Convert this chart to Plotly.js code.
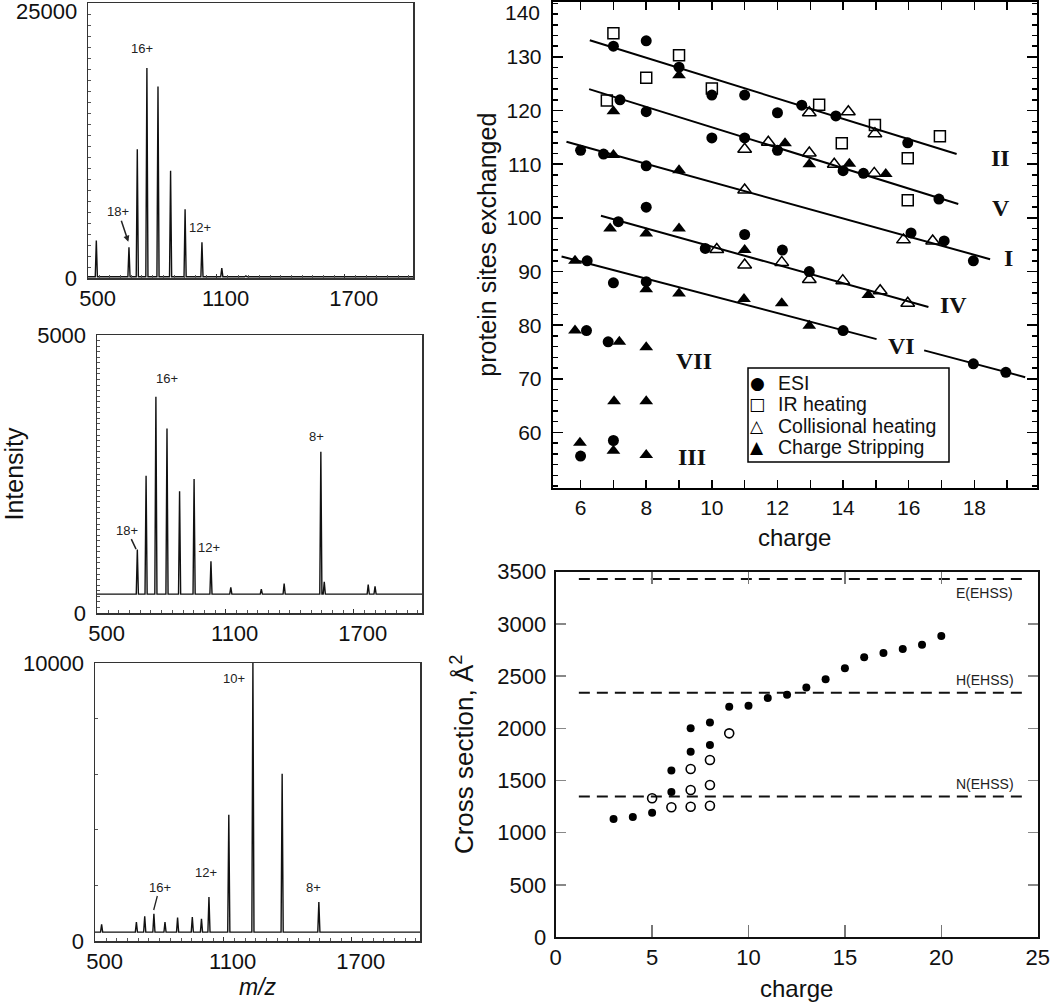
<!DOCTYPE html>
<html><head><meta charset="utf-8">
<script src="https://cdn.plot.ly/plotly-3.0.1.min.js"></script>
<style>html,body{margin:0;padding:0;background:#fff}#chart{width:1050px;height:1003px}</style>
</head><body><div id="chart"></div>
<script>
// ---------- Mass spectra (peak lists: m/z and intensity) ----------
const spec1MZ  = [536, 689, 728, 773, 825, 884, 952, 1031, 1124, 1237];
const spec1Int = [3400, 2800, 11700, 19100, 17400, 9750, 6250, 3250, 900, 200];
const spec1Base = 120;

const spec2MZ  = [686, 727, 773, 825, 884, 952, 1031, 1124, 1267, 1374, 1546, 1562, 1768, 1800];
const spec2Int = [1140, 2470, 3890, 3320, 2190, 2410, 930, 460, 430, 530, 2900, 560, 510, 480];
const spec2Base = 340;

const spec3MZ  = [528, 691, 730, 773, 825, 884, 953, 996, 1031, 1124, 1237, 1374, 1546];
const spec3Int = [600, 680, 890, 980, 680, 840, 860, 800, 1580, 4540, 10000, 6020, 1400];
const spec3Base = 320;

const mzTickVals = [500, 1100, 1700];

// peak labels on spectra
const spec1Labels = ["16+", "12+"];
const spec1LabX = [750, 1022];
const spec1LabY = [20900, 4550];
const spec2Labels = ["16+", "12+", "8+"];
const spec2LabX = [824, 1022, 1526];
const spec2LabY = [4209, 1187, 3183];
const spec3Labels = ["10+", "12+", "8+"];
const spec3LabX = [1147, 1016, 1521];
const spec3LabY = [9460, 2482, 1942];

// ---------- H/D exchange vs charge ----------
const esiX = [7, 8, 9, 10, 11, 7.2, 8, 10, 11, 6, 6.7, 8, 8, 7.15, 11, 9.8, 6.2, 12, 12.74, 13.78, 15.97, 16.92, 12, 14, 14.62, 16.07, 17.08, 17.97, 12.15, 12.97, 14, 17.97, 18.96, 7, 8, 6.18, 6.84, 6, 7];
const esiY = [132, 133, 128.1, 122.9, 122.9, 122, 119.8, 114.9, 114.9, 112.6, 111.9, 109.7, 102, 99.3, 96.9, 94.3, 92, 119.6, 121.0, 119.0, 114.0, 103.5, 112.6, 108.8, 108.3, 97.2, 95.7, 92.0, 94.0, 90.0, 79.0, 72.8, 71.2, 87.9, 88.1, 79.0, 76.9, 55.6, 58.5];

const irX = [7, 9, 8, 10, 6.8, 13.27, 13.96, 14.97, 16.95, 15.97, 15.97];
const irY = [134.4, 130.3, 126.1, 124.1, 121.9, 121.1, 113.9, 117.3, 115.2, 111.1, 103.3];

const colX = [11, 11.72, 11, 10.15, 11, 12.97, 14.16, 14.97, 12.97, 13.73, 14.95, 15.84, 16.73, 12.13, 12.97, 13.99, 15.13, 15.97];
const colY = [112.8, 114.1, 105.2, 94.1, 91.2, 119.6, 119.8, 115.7, 112.1, 110.0, 108.3, 95.9, 95.7, 91.7, 88.5, 88.3, 86.4, 84.1];

const csX = [9, 7, 7, 9, 6.9, 8, 9, 11, 5.83, 12.23, 12.97, 14.19, 15.30, 14.77, 10.98, 12.13, 12.97, 8, 9, 5.83, 7.18, 8, 7.02, 8, 5.98, 7, 8];
const csY = [126.6, 119.9, 111.7, 108.9, 98, 97.1, 98, 94, 92, 113.9, 110.0, 110.1, 108.2, 85.6, 84.9, 84.1, 79.9, 86.7, 85.9, 79.0, 76.9, 75.9, 65.8, 65.8, 58.1, 56.6, 55.8];

const legendNames = ["ESI", "IR heating", "Collisional heating", "Charge Stripping"];
const legendGlyphs = ["\u25CF", "\u25A1", "\u25B3", "\u25B2"];

// fitted lines (segment end points)
const fitX0 = [6.28, 6.26, 5.57, 6.62, 5.42, 16.47];
const fitY0 = [133.1, 124.0, 114.2, 100.4, 92.8, 75.3];
const fitX1 = [17.46, 17.51, 18.48, 16.6, 15.02, 19.55];
const fitY1 = [111.9, 102.6, 92.3, 83.4, 77.4, 70.3];

const romanText = ["II", "V", "I", "IV", "VI", "VII", "III"];
const romanX = [18.8, 18.8, 19.04, 17.36, 15.79, 9.45, 9.38];
const romanY = [111.1, 101.8, 92.5, 83.8, 76.1, 73.4, 55.4];

// ---------- Cross sections ----------
const filledX = [3, 4, 5, 6, 6, 7, 7, 8, 8, 9, 10, 11, 12, 13, 14, 15, 16, 17, 18, 19, 20];
const filledY = [1130, 1150, 1190, 1595, 1390, 2000, 1775, 2055, 1840, 2205, 2215, 2290, 2320, 2390, 2470, 2575, 2680, 2720, 2760, 2800, 2885];
const openX = [5, 6, 7, 7, 7, 8, 8, 8, 9];
const openY = [1330, 1243, 1248, 1408, 1609, 1258, 1456, 1696, 1951];
const ehssNames = ["E(EHSS)", "H(EHSS)", "N(EHSS)"];
const ehssLevels = [3430, 2340, 1345];
const ehssLabelY = [3292, 2462, 1463];
const ehssStart = 1.2, ehssEnd = 24.5;

// ---------- helpers ----------
const W = 1050, H = 1003;
const dx = (a, b) => [a / W, b / W];
const dy = (top, bottom) => [1 - bottom / H, 1 - top / H];
const FONT = "Liberation Sans, Arial, sans-serif";

function spectrumTrace(mz, inten, base, xa, ya) {
  const hw = 5;
  const xs = [497], ys = [base];
  mz.forEach((m, i) => { xs.push(m - hw, m, m + hw); ys.push(base, inten[i], base); });
  xs.push(2020); ys.push(base);
  return { x: xs, y: ys, xaxis: xa, yaxis: ya, type: 'scatter', mode: 'lines',
    line: { color: '#111', width: 1.4 }, showlegend: false, hoverinfo: 'skip' };
}

const traces = [
  spectrumTrace(spec1MZ, spec1Int, spec1Base, 'x', 'y'),
  spectrumTrace(spec2MZ, spec2Int, spec2Base, 'x2', 'y2'),
  spectrumTrace(spec3MZ, spec3Int, spec3Base, 'x3', 'y3'),
];

fitX0.forEach((x0, i) => {
  traces.push({ x: [x0, fitX1[i]], y: [fitY0[i], fitY1[i]], xaxis: 'x4', yaxis: 'y4',
    mode: 'lines', line: { color: '#000', width: 2 }, showlegend: false, hoverinfo: 'skip' });
});
traces.push({ x: esiX, y: esiY, xaxis: 'x4', yaxis: 'y4', mode: 'markers', name: legendNames[0],
  marker: { symbol: 'circle', size: 11, color: '#000' } });
traces.push({ x: irX, y: irY, xaxis: 'x4', yaxis: 'y4', mode: 'markers', name: legendNames[1],
  marker: { symbol: 'square-open', size: 11, color: '#000', line: { width: 1.5 } } });
traces.push({ x: colX, y: colY, xaxis: 'x4', yaxis: 'y4', mode: 'markers', name: legendNames[2],
  marker: { symbol: 'triangle-up-open', size: 12, color: '#000', line: { width: 1.5 } } });
traces.push({ x: csX, y: csY, xaxis: 'x4', yaxis: 'y4', mode: 'markers', name: legendNames[3],
  marker: { symbol: 'triangle-up', size: 12, color: '#000' } });

ehssLevels.forEach((lv, i) => {
  traces.push({ x: [ehssStart, ehssEnd], y: [lv, lv], xaxis: 'x5', yaxis: 'y5', mode: 'lines', name: ehssNames[i],
    line: { color: '#111', width: 2, dash: '11px,7px' }, showlegend: false, hoverinfo: 'skip' });
});
traces.push({ x: filledX, y: filledY, xaxis: 'x5', yaxis: 'y5', mode: 'markers', showlegend: false,
  marker: { symbol: 'circle', size: 8, color: '#000' } });
traces.push({ x: openX, y: openY, xaxis: 'x5', yaxis: 'y5', mode: 'markers', showlegend: false,
  marker: { symbol: 'circle-open', size: 9, color: '#000', line: { width: 1.6 } } });

// ---------- axes ----------
function specX(dom, anchor, extra) {
  return Object.assign({ domain: dom, anchor: anchor, range: [497, 2020], tickvals: mzTickVals,
    ticks: 'inside', ticklen: 4, tickcolor: '#333', showline: true, mirror: true, linecolor: '#333', linewidth: 1.5,
    showgrid: false, zeroline: false, tickfont: { size: 22, family: FONT, color: '#111' }, ticklabelshift: 9,
    minor: { dtick: 50, tick0: 500, ticklen: 3, ticks: 'inside', tickcolor: '#555' } }, extra || {});
}
function specY(dom, anchor, max, minorD, extra) {
  return Object.assign({ domain: dom, anchor: anchor, range: [0, max], tickvals: [0], ticktext: ['0'],
    ticks: 'inside', ticklen: 4, tickcolor: '#333', showline: true, mirror: true, linecolor: '#333', linewidth: 1.5,
    showgrid: false, zeroline: false, tickfont: { size: 22, family: FONT, color: '#111' }, ticklabelstandoff: 5,
    minor: { dtick: minorD, ticklen: 3, ticks: 'inside', tickcolor: '#555' } }, extra || {});
}

const layout = {
  width: W, height: H, margin: { l: 0, r: 0, t: 0, b: 0 },
  paper_bgcolor: '#fff', plot_bgcolor: '#fff',
  font: { family: FONT, color: '#111' },
  showlegend: false,
  xaxis: specX(dx(88, 413), 'y'),
  yaxis: specY(dy(3, 278), 'x', 25000, 1000),
  xaxis2: specX(dx(97, 422), 'y2'),
  yaxis2: specY(dy(335, 613), 'x2', 5000, 100, {
    tickvals: [0, 5000], ticktext: ['0', '5000'],
    title: { text: 'Intensity', font: { size: 25, family: FONT, color: '#111' }, standoff: 11 } }),
  xaxis3: specX(dx(95, 420), 'y3', {
    title: { text: '<i>m/z</i>', font: { size: 23, family: FONT, color: '#111' }, standoff: 4 } }),
  yaxis3: specY(dy(663, 941), 'x3', 10000, 2000, { tickvals: [0, 10000], ticktext: ['0', '10000'] }),

  xaxis4: { domain: dx(552.7, 1036.7), anchor: 'y4', range: [5.15, 19.9], tick0: 6, dtick: 2,
    ticks: 'inside', ticklen: 8, tickwidth: 1.5, tickcolor: '#000', showline: true, mirror: 'ticks',
    linecolor: '#000', linewidth: 2, showgrid: false, zeroline: false,
    tickfont: { size: 21, family: FONT, color: '#111' },
    minor: { dtick: 1, ticklen: 8, ticks: 'inside', tickwidth: 1.5, tickcolor: '#000' },
    title: { text: 'charge', font: { size: 24, family: FONT, color: '#111' }, standoff: 11 } },
  yaxis4: { domain: dy(1.7, 487.7), anchor: 'x4', range: [49.7, 140.3],
    tickvals: [60, 70, 80, 90, 100, 110, 120, 130],
    ticks: 'inside', ticklen: 10, tickwidth: 1.5, tickcolor: '#000', showline: true, mirror: 'ticks',
    linecolor: '#000', linewidth: 2, showgrid: false, zeroline: false, ticklabelstandoff: 5,
    tickfont: { size: 21, family: FONT, color: '#111' },
    minor: { dtick: 2, ticklen: 5, ticks: 'inside', tickwidth: 1.5, tickcolor: '#000' },
    title: { text: 'protein sites exchanged', font: { size: 25, family: FONT, color: '#111' }, standoff: 3 } },

  xaxis5: { domain: dx(555.7, 1037.7), anchor: 'y5', range: [0, 25], dtick: 5,
    ticks: 'inside', ticklen: 12, tickwidth: 1.5, tickcolor: '#777', showline: true, mirror: 'ticks',
    linecolor: '#111', linewidth: 2, showgrid: false, zeroline: false,
    tickfont: { size: 22, family: FONT, color: '#111' },
    title: { text: 'charge', font: { size: 24, family: FONT, color: '#111' }, standoff: 11 } },
  yaxis5: { domain: dy(571.7, 937), anchor: 'x5', range: [0, 3500], dtick: 500,
    ticks: 'inside', ticklen: 10, tickwidth: 1.5, tickcolor: '#888', showline: true, mirror: 'ticks',
    linecolor: '#111', linewidth: 2, showgrid: false, zeroline: false, ticklabelstandoff: 3,
    tickfont: { size: 22, family: FONT, color: '#111' },
    title: { text: 'Cross section, Å<sup>2</sup>', font: { size: 26, family: FONT, color: '#111' }, standoff: 16 } },

  annotations: [],
  shapes: [
    { type: 'rect', xref: 'paper', yref: 'paper', x0: 748 / W, x1: 949 / W, y0: 1 - 462 / H, y1: 1 - 368 / H,
      line: { color: '#000', width: 1.5 }, fillcolor: '#fff', layer: 'above' }
  ]
};

// top labels that would otherwise be clipped at the top edge
layout.annotations.push({ xref: 'paper', yref: 'paper', x: 79 / W, y: 1 - 11 / H, xanchor: 'right', yanchor: 'middle',
  text: '25000', showarrow: false, font: { size: 22, family: FONT, color: '#111' } });
layout.annotations.push({ xref: 'paper', yref: 'paper', x: 542 / W, y: 1 - 13 / H, xanchor: 'right', yanchor: 'middle',
  text: '140', showarrow: false, font: { size: 21, family: FONT, color: '#111' } });

// legend (drawn as text inside a box)
const legRowY = [382.7, 404, 425.5, 447];
legendNames.forEach((n, i) => {
  layout.annotations.push({ xref: 'paper', yref: 'paper', x: 757 / W, y: 1 - legRowY[i] / H, xanchor: 'center', yanchor: 'middle',
    text: legendGlyphs[i], showarrow: false, font: { size: 17, family: 'DejaVu Sans, sans-serif', color: '#000' } });
  layout.annotations.push({ xref: 'paper', yref: 'paper', x: 776 / W, y: 1 - legRowY[i] / H, xanchor: 'left', yanchor: 'middle',
    text: n, showarrow: false, font: { size: 19.5, family: FONT, color: '#111' } });
});

const smallFont = { size: 13, family: FONT, color: '#222' };
function addLabels(txt, xs, ys, xr, yr) {
  txt.forEach((t, i) => layout.annotations.push({ xref: xr, yref: yr, x: xs[i], y: ys[i], text: t,
    showarrow: false, font: smallFont }));
}
addLabels(spec1Labels, spec1LabX, spec1LabY, 'x', 'y');
addLabels(spec2Labels, spec2LabX, spec2LabY, 'x2', 'y2');
addLabels(spec3Labels, spec3LabX, spec3LabY, 'x3', 'y3');
layout.annotations.push({ xref: 'x', yref: 'y', x: 686, y: 3300, ax: -10, ay: -30, text: '18+', showarrow: true,
  arrowhead: 2, arrowsize: 0.8, arrowwidth: 1.5, arrowcolor: '#222', font: smallFont });
layout.annotations.push({ xref: 'x2', yref: 'y2', x: 680, y: 1150, ax: -9, ay: -19, text: '18+', showarrow: true,
  arrowhead: 0, arrowwidth: 1.5, arrowcolor: '#222', font: smallFont });
layout.annotations.push({ xref: 'x3', yref: 'y3', x: 772, y: 1115, ax: 6, ay: -23, text: '16+', showarrow: true,
  arrowhead: 0, arrowwidth: 1.3, arrowcolor: '#222', font: smallFont });

romanText.forEach((t, i) => layout.annotations.push({ xref: 'x4', yref: 'y4', x: romanX[i], y: romanY[i], text: '<b>' + t + '</b>',
  showarrow: false, font: { size: 24, family: 'Liberation Serif, Times New Roman, serif', color: '#111' } }));

ehssNames.forEach((t, i) => layout.annotations.push({ xref: 'x5', yref: 'y5', x: 22.25, y: ehssLabelY[i], text: t,
  showarrow: false, font: { size: 14, family: 'Liberation Sans Narrow, Arial Narrow, sans-serif', color: '#222' } }));

Plotly.newPlot('chart', traces, layout, { displayModeBar: false, staticPlot: true });
</script></body></html>
